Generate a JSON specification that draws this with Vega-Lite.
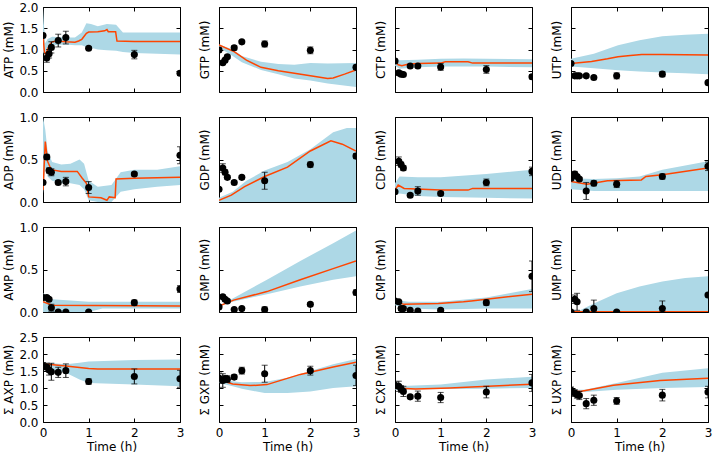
{
"$schema":"https://vega.github.io/schema/vega-lite/v6.json",
"padding":{"left":2,"top":0,"right":2,"bottom":2},
"datasets":{
"pts":[
{"m":"ATP","t":0,"v":1.33,"lo":1.28,"hi":1.38},{"m":"ATP","t":0.083,"v":0.8,"lo":0.7,"hi":0.9},{"m":"ATP","t":0.133,"v":0.9,"lo":0.8,"hi":1.0},{"m":"ATP","t":0.183,"v":1.05,"lo":0.92,"hi":1.18},{"m":"ATP","t":0.333,"v":1.21,"lo":1.06,"hi":1.36},{"m":"ATP","t":0.5,"v":1.28,"lo":1.13,"hi":1.43},{"m":"ATP","t":1,"v":1.03,"lo":1.0,"hi":1.06},{"m":"ATP","t":2,"v":0.88,"lo":0.78,"hi":0.98},{"m":"ATP","t":3,"v":0.44,"lo":0.39,"hi":0.49},
{"m":"GTP","t":0,"v":0.99,"lo":0.94,"hi":1.04},{"m":"GTP","t":0.083,"v":0.69,"lo":0.65,"hi":0.73},{"m":"GTP","t":0.133,"v":0.75,"lo":0.71,"hi":0.79},{"m":"GTP","t":0.183,"v":0.83,"lo":0.79,"hi":0.87},{"m":"GTP","t":0.333,"v":1.04,"lo":0.99,"hi":1.09},{"m":"GTP","t":0.5,"v":1.18,"lo":1.15,"hi":1.21},{"m":"GTP","t":1,"v":1.13,"lo":1.06,"hi":1.2},{"m":"GTP","t":2,"v":0.98,"lo":0.9,"hi":1.06},{"m":"GTP","t":3,"v":0.58,"lo":0.53,"hi":0.63},
{"m":"CTP","t":0,"v":0.73,"lo":0.68,"hi":0.78},{"m":"CTP","t":0.083,"v":0.45,"lo":0.42,"hi":0.48},{"m":"CTP","t":0.133,"v":0.42,"lo":0.39,"hi":0.45},{"m":"CTP","t":0.183,"v":0.41,"lo":0.38,"hi":0.44},{"m":"CTP","t":0.333,"v":0.61,"lo":0.58,"hi":0.64},{"m":"CTP","t":0.5,"v":0.61,"lo":0.58,"hi":0.64},{"m":"CTP","t":1,"v":0.59,"lo":0.51,"hi":0.67},{"m":"CTP","t":2,"v":0.53,"lo":0.44,"hi":0.62},{"m":"CTP","t":3,"v":0.36,"lo":0.31,"hi":0.41},
{"m":"UTP","t":0,"v":0.67,"lo":0.63,"hi":0.71},{"m":"UTP","t":0.083,"v":0.38,"lo":0.35,"hi":0.41},{"m":"UTP","t":0.133,"v":0.38,"lo":0.35,"hi":0.41},{"m":"UTP","t":0.183,"v":0.38,"lo":0.35,"hi":0.41},{"m":"UTP","t":0.333,"v":0.38,"lo":0.35,"hi":0.41},{"m":"UTP","t":0.5,"v":0.34,"lo":0.31,"hi":0.37},{"m":"UTP","t":1,"v":0.38,"lo":0.31,"hi":0.45},{"m":"UTP","t":2,"v":0.42,"lo":0.36,"hi":0.48},{"m":"UTP","t":3,"v":0.22,"lo":0.19,"hi":0.25},
{"m":"ADP","t":0,"v":0.23,"lo":0.21,"hi":0.25},{"m":"ADP","t":0.083,"v":0.53,"lo":0.5,"hi":0.56},{"m":"ADP","t":0.133,"v":0.37,"lo":0.34,"hi":0.4},{"m":"ADP","t":0.183,"v":0.35,"lo":0.31,"hi":0.39},{"m":"ADP","t":0.333,"v":0.23,"lo":0.21,"hi":0.25},{"m":"ADP","t":0.5,"v":0.24,"lo":0.19,"hi":0.29},{"m":"ADP","t":1,"v":0.17,"lo":0.1,"hi":0.24},{"m":"ADP","t":2,"v":0.33,"lo":0.31,"hi":0.35},{"m":"ADP","t":3,"v":0.55,"lo":0.45,"hi":0.65},
{"m":"GDP","t":0,"v":0.15,"lo":0.13,"hi":0.17},{"m":"GDP","t":0.083,"v":0.4,"lo":0.35,"hi":0.45},{"m":"GDP","t":0.133,"v":0.35,"lo":0.32,"hi":0.38},{"m":"GDP","t":0.183,"v":0.29,"lo":0.27,"hi":0.31},{"m":"GDP","t":0.333,"v":0.23,"lo":0.21,"hi":0.25},{"m":"GDP","t":0.5,"v":0.29,"lo":0.27,"hi":0.31},{"m":"GDP","t":1,"v":0.25,"lo":0.15,"hi":0.35},{"m":"GDP","t":2,"v":0.44,"lo":0.41,"hi":0.47},{"m":"GDP","t":3,"v":0.54,"lo":0.51,"hi":0.57},
{"m":"CDP","t":0,"v":0.12,"lo":0.1,"hi":0.14},{"m":"CDP","t":0.083,"v":0.48,"lo":0.43,"hi":0.53},{"m":"CDP","t":0.133,"v":0.44,"lo":0.41,"hi":0.47},{"m":"CDP","t":0.183,"v":0.4,"lo":0.37,"hi":0.43},{"m":"CDP","t":0.333,"v":0.08,"lo":0.06,"hi":0.1},{"m":"CDP","t":0.5,"v":0.13,"lo":0.08,"hi":0.18},{"m":"CDP","t":1,"v":0.1,"lo":0.08,"hi":0.12},{"m":"CDP","t":2,"v":0.23,"lo":0.19,"hi":0.27},{"m":"CDP","t":3,"v":0.36,"lo":0.31,"hi":0.41},
{"m":"UDP","t":0,"v":0.28,"lo":0.26,"hi":0.3},{"m":"UDP","t":0.083,"v":0.33,"lo":0.3,"hi":0.36},{"m":"UDP","t":0.133,"v":0.3,"lo":0.28,"hi":0.32},{"m":"UDP","t":0.183,"v":0.27,"lo":0.25,"hi":0.29},{"m":"UDP","t":0.333,"v":0.13,"lo":0.03,"hi":0.23},{"m":"UDP","t":0.5,"v":0.22,"lo":0.19,"hi":0.25},{"m":"UDP","t":1,"v":0.21,"lo":0.17,"hi":0.25},{"m":"UDP","t":2,"v":0.3,"lo":0.27,"hi":0.33},{"m":"UDP","t":3,"v":0.42,"lo":0.37,"hi":0.47},
{"m":"AMP","t":0,"v":0.17,"lo":0.15,"hi":0.19},{"m":"AMP","t":0.083,"v":0.17,"lo":0.15,"hi":0.19},{"m":"AMP","t":0.133,"v":0.15,"lo":0.13,"hi":0.17},{"m":"AMP","t":0.183,"v":0.05,"lo":0.01,"hi":0.09},{"m":"AMP","t":0.333,"v":0.0,"lo":0.0,"hi":0.01},{"m":"AMP","t":0.5,"v":0.0,"lo":0.0,"hi":0.01},{"m":"AMP","t":1,"v":0.0,"lo":0.0,"hi":0.01},{"m":"AMP","t":2,"v":0.11,"lo":0.08,"hi":0.14},{"m":"AMP","t":3,"v":0.27,"lo":0.23,"hi":0.31},
{"m":"GMP","t":0,"v":0.06,"lo":0.05,"hi":0.07},{"m":"GMP","t":0.083,"v":0.18,"lo":0.16,"hi":0.2},{"m":"GMP","t":0.133,"v":0.15,"lo":0.13,"hi":0.17},{"m":"GMP","t":0.183,"v":0.13,"lo":0.11,"hi":0.15},{"m":"GMP","t":0.333,"v":0.03,"lo":0.02,"hi":0.04},{"m":"GMP","t":0.5,"v":0.04,"lo":0.03,"hi":0.05},{"m":"GMP","t":1,"v":0.03,"lo":0.0,"hi":0.06},{"m":"GMP","t":2,"v":0.09,"lo":0.07,"hi":0.11},{"m":"GMP","t":3,"v":0.23,"lo":0.2,"hi":0.26},
{"m":"CMP","t":0,"v":0.13,"lo":0.12,"hi":0.14},{"m":"CMP","t":0.083,"v":0.12,"lo":0.11,"hi":0.13},{"m":"CMP","t":0.133,"v":0.04,"lo":0.02,"hi":0.06},{"m":"CMP","t":0.183,"v":0.04,"lo":0.02,"hi":0.06},{"m":"CMP","t":0.333,"v":0.02,"lo":0.01,"hi":0.03},{"m":"CMP","t":0.5,"v":0.01,"lo":0.0,"hi":0.02},{"m":"CMP","t":1,"v":0.02,"lo":0.0,"hi":0.04},{"m":"CMP","t":2,"v":0.11,"lo":0.08,"hi":0.14},{"m":"CMP","t":3,"v":0.42,"lo":0.24,"hi":0.6},
{"m":"UMP","t":0,"v":0.0,"lo":0.0,"hi":0.01},{"m":"UMP","t":0.083,"v":0.15,"lo":0.1,"hi":0.2},{"m":"UMP","t":0.133,"v":0.12,"lo":0.02,"hi":0.22},{"m":"UMP","t":0.333,"v":0.0,"lo":0.0,"hi":0.01},{"m":"UMP","t":0.5,"v":0.04,"lo":0.0,"hi":0.14},{"m":"UMP","t":1,"v":0.0,"lo":0.0,"hi":0.01},{"m":"UMP","t":2,"v":0.04,"lo":0.0,"hi":0.13},{"m":"UMP","t":3,"v":0.2,"lo":0.18,"hi":0.22},
{"m":"AXP","t":0,"v":1.65,"lo":1.55,"hi":1.75},{"m":"AXP","t":0.083,"v":1.61,"lo":1.49,"hi":1.73},{"m":"AXP","t":0.133,"v":1.53,"lo":1.38,"hi":1.68},{"m":"AXP","t":0.183,"v":1.48,"lo":1.23,"hi":1.73},{"m":"AXP","t":0.333,"v":1.46,"lo":1.31,"hi":1.61},{"m":"AXP","t":0.5,"v":1.51,"lo":1.31,"hi":1.71},{"m":"AXP","t":1,"v":1.19,"lo":1.11,"hi":1.27},{"m":"AXP","t":2,"v":1.34,"lo":1.12,"hi":1.56},{"m":"AXP","t":3,"v":1.27,"lo":1.02,"hi":1.52},
{"m":"GXP","t":0,"v":1.29,"lo":1.14,"hi":1.44},{"m":"GXP","t":0.083,"v":1.22,"lo":1.02,"hi":1.42},{"m":"GXP","t":0.133,"v":1.27,"lo":1.17,"hi":1.37},{"m":"GXP","t":0.183,"v":1.26,"lo":1.16,"hi":1.36},{"m":"GXP","t":0.333,"v":1.32,"lo":1.25,"hi":1.39},{"m":"GXP","t":0.5,"v":1.51,"lo":1.41,"hi":1.61},{"m":"GXP","t":1,"v":1.42,"lo":1.17,"hi":1.67},{"m":"GXP","t":2,"v":1.51,"lo":1.38,"hi":1.64},{"m":"GXP","t":3,"v":1.37,"lo":1.07,"hi":1.67},
{"m":"CXP","t":0,"v":1.08,"lo":0.98,"hi":1.18},{"m":"CXP","t":0.083,"v":1.05,"lo":0.9,"hi":1.2},{"m":"CXP","t":0.133,"v":0.97,"lo":0.87,"hi":1.07},{"m":"CXP","t":0.183,"v":0.9,"lo":0.75,"hi":1.05},{"m":"CXP","t":0.333,"v":0.74,"lo":0.69,"hi":0.79},{"m":"CXP","t":0.5,"v":0.76,"lo":0.61,"hi":0.91},{"m":"CXP","t":1,"v":0.72,"lo":0.57,"hi":0.87},{"m":"CXP","t":2,"v":0.88,"lo":0.71,"hi":1.05},{"m":"CXP","t":3,"v":1.15,"lo":0.9,"hi":1.4},
{"m":"UXP","t":0,"v":0.93,"lo":0.83,"hi":1.03},{"m":"UXP","t":0.083,"v":0.85,"lo":0.75,"hi":0.95},{"m":"UXP","t":0.133,"v":0.8,"lo":0.7,"hi":0.9},{"m":"UXP","t":0.183,"v":0.78,"lo":0.66,"hi":0.9},{"m":"UXP","t":0.333,"v":0.54,"lo":0.39,"hi":0.69},{"m":"UXP","t":0.5,"v":0.64,"lo":0.49,"hi":0.79},{"m":"UXP","t":1,"v":0.62,"lo":0.52,"hi":0.72},{"m":"UXP","t":2,"v":0.79,"lo":0.62,"hi":0.96},{"m":"UXP","t":3,"v":0.88,"lo":0.71,"hi":1.05}
],
"line":[
{"m":"ATP","t":0,"v":1.33},{"m":"ATP","t":0.03,"v":0.95},{"m":"ATP","t":0.06,"v":0.88},{"m":"ATP","t":0.1,"v":1.0},{"m":"ATP","t":0.15,"v":1.12},{"m":"ATP","t":0.2,"v":1.18},{"m":"ATP","t":0.3,"v":1.2},{"m":"ATP","t":0.5,"v":1.18},{"m":"ATP","t":0.7,"v":1.17},{"m":"ATP","t":0.78,"v":1.2},{"m":"ATP","t":0.85,"v":1.24},{"m":"ATP","t":0.95,"v":1.38},{"m":"ATP","t":1.0,"v":1.41},{"m":"ATP","t":1.2,"v":1.42},{"m":"ATP","t":1.35,"v":1.44},{"m":"ATP","t":1.4,"v":1.47},{"m":"ATP","t":1.43,"v":1.42},{"m":"ATP","t":1.59,"v":1.42},{"m":"ATP","t":1.62,"v":1.2},{"m":"ATP","t":2,"v":1.19},{"m":"ATP","t":3,"v":1.19},
{"m":"GTP","t":0,"v":1.11},{"m":"GTP","t":0.33,"v":0.95},{"m":"GTP","t":0.6,"v":0.75},{"m":"GTP","t":0.92,"v":0.58},{"m":"GTP","t":1.3,"v":0.5},{"m":"GTP","t":1.65,"v":0.44},{"m":"GTP","t":2.0,"v":0.38},{"m":"GTP","t":2.38,"v":0.32},{"m":"GTP","t":2.5,"v":0.33},{"m":"GTP","t":2.75,"v":0.42},{"m":"GTP","t":3,"v":0.52},
{"m":"CTP","t":0,"v":0.73},{"m":"CTP","t":0.07,"v":0.64},{"m":"CTP","t":0.15,"v":0.62},{"m":"CTP","t":0.3,"v":0.66},{"m":"CTP","t":0.5,"v":0.67},{"m":"CTP","t":1.0,"v":0.68},{"m":"CTP","t":1.1,"v":0.71},{"m":"CTP","t":1.6,"v":0.71},{"m":"CTP","t":1.7,"v":0.68},{"m":"CTP","t":3,"v":0.68},
{"m":"UTP","t":0,"v":0.67},{"m":"UTP","t":0.45,"v":0.72},{"m":"UTP","t":0.8,"v":0.78},{"m":"UTP","t":1.03,"v":0.83},{"m":"UTP","t":1.3,"v":0.86},{"m":"UTP","t":1.55,"v":0.88},{"m":"UTP","t":2,"v":0.88},{"m":"UTP","t":3,"v":0.87},
{"m":"ADP","t":0,"v":0.14},{"m":"ADP","t":0.05,"v":0.71},{"m":"ADP","t":0.1,"v":0.48},{"m":"ADP","t":0.18,"v":0.38},{"m":"ADP","t":0.4,"v":0.36},{"m":"ADP","t":0.75,"v":0.36},{"m":"ADP","t":0.86,"v":0.28},{"m":"ADP","t":0.95,"v":0.22},{"m":"ADP","t":1.0,"v":0.06},{"m":"ADP","t":1.27,"v":0.05},{"m":"ADP","t":1.4,"v":0.02},{"m":"ADP","t":1.45,"v":0.06},{"m":"ADP","t":1.58,"v":0.05},{"m":"ADP","t":1.6,"v":0.27},{"m":"ADP","t":2,"v":0.28},{"m":"ADP","t":3,"v":0.29},
{"m":"GDP","t":0,"v":0.02},{"m":"GDP","t":0.27,"v":0.08},{"m":"GDP","t":0.56,"v":0.18},{"m":"GDP","t":1.0,"v":0.3},{"m":"GDP","t":1.5,"v":0.41},{"m":"GDP","t":2.0,"v":0.6},{"m":"GDP","t":2.45,"v":0.72},{"m":"GDP","t":2.7,"v":0.68},{"m":"GDP","t":3,"v":0.6},
{"m":"CDP","t":0,"v":0.14},{"m":"CDP","t":0.07,"v":0.2},{"m":"CDP","t":0.2,"v":0.16},{"m":"CDP","t":1.0,"v":0.14},{"m":"CDP","t":1.6,"v":0.14},{"m":"CDP","t":1.7,"v":0.16},{"m":"CDP","t":3,"v":0.16},
{"m":"UDP","t":0,"v":0.24},{"m":"UDP","t":0.35,"v":0.21},{"m":"UDP","t":0.8,"v":0.25},{"m":"UDP","t":1.54,"v":0.26},{"m":"UDP","t":1.64,"v":0.3},{"m":"UDP","t":2,"v":0.32},{"m":"UDP","t":3,"v":0.4},
{"m":"AMP","t":0,"v":0.12},{"m":"AMP","t":0.2,"v":0.08},{"m":"AMP","t":3,"v":0.07},
{"m":"GMP","t":0,"v":0.07},{"m":"GMP","t":0.32,"v":0.14},{"m":"GMP","t":1.05,"v":0.24},{"m":"GMP","t":1.78,"v":0.38},{"m":"GMP","t":2.5,"v":0.51},{"m":"GMP","t":3,"v":0.6},
{"m":"CMP","t":0,"v":0.12},{"m":"CMP","t":0.2,"v":0.09},{"m":"CMP","t":0.95,"v":0.1},{"m":"CMP","t":1.5,"v":0.12},{"m":"CMP","t":1.67,"v":0.13},{"m":"CMP","t":3,"v":0.21},
{"m":"UMP","t":0,"v":0.003},{"m":"UMP","t":3,"v":0.003},
{"m":"AXP","t":0,"v":1.71},{"m":"AXP","t":0.55,"v":1.64},{"m":"AXP","t":1.0,"v":1.57},{"m":"AXP","t":1.2,"v":1.56},{"m":"AXP","t":3,"v":1.56},
{"m":"GXP","t":0,"v":1.24},{"m":"GXP","t":0.3,"v":1.12},{"m":"GXP","t":0.68,"v":1.07},{"m":"GXP","t":1.05,"v":1.1},{"m":"GXP","t":1.78,"v":1.4},{"m":"GXP","t":2.5,"v":1.62},{"m":"GXP","t":3,"v":1.76},
{"m":"CXP","t":0,"v":1.0},{"m":"CXP","t":0.45,"v":0.97},{"m":"CXP","t":1.2,"v":1.0},{"m":"CXP","t":3,"v":1.11},
{"m":"UXP","t":0,"v":0.92},{"m":"UXP","t":0.2,"v":0.9},{"m":"UXP","t":0.93,"v":1.08},{"m":"UXP","t":1.95,"v":1.22},{"m":"UXP","t":3,"v":1.29}
],
"band":[
{"m":"ATP","t":0,"lo":0.95,"hi":2.0},{"m":"ATP","t":0.02,"lo":0.9,"hi":1.6},{"m":"ATP","t":0.05,"lo":0.85,"hi":1.15},{"m":"ATP","t":0.1,"lo":1.0,"hi":1.25},{"m":"ATP","t":0.2,"lo":1.1,"hi":1.3},{"m":"ATP","t":0.5,"lo":1.12,"hi":1.28},{"m":"ATP","t":0.7,"lo":1.1,"hi":1.28},{"m":"ATP","t":0.85,"lo":1.1,"hi":1.4},{"m":"ATP","t":0.95,"lo":1.06,"hi":1.62},{"m":"ATP","t":1.05,"lo":1.04,"hi":1.6},{"m":"ATP","t":1.2,"lo":1.0,"hi":1.55},{"m":"ATP","t":1.4,"lo":0.98,"hi":1.6},{"m":"ATP","t":1.6,"lo":0.97,"hi":1.58},{"m":"ATP","t":1.75,"lo":0.94,"hi":1.4},{"m":"ATP","t":2,"lo":0.92,"hi":1.4},{"m":"ATP","t":3,"lo":0.88,"hi":1.4},
{"m":"GTP","t":0,"lo":1.05,"hi":1.12},{"m":"GTP","t":0.3,"lo":0.85,"hi":1.0},{"m":"GTP","t":0.5,"lo":0.7,"hi":0.85},{"m":"GTP","t":0.92,"lo":0.52,"hi":0.71},{"m":"GTP","t":1.3,"lo":0.42,"hi":0.66},{"m":"GTP","t":1.65,"lo":0.32,"hi":0.64},{"m":"GTP","t":2,"lo":0.27,"hi":0.68},{"m":"GTP","t":2.38,"lo":0.2,"hi":0.67},{"m":"GTP","t":3,"lo":0.12,"hi":0.68},
{"m":"CTP","t":0,"lo":0.62,"hi":0.8},{"m":"CTP","t":0.1,"lo":0.55,"hi":0.75},{"m":"CTP","t":0.5,"lo":0.58,"hi":0.76},{"m":"CTP","t":1,"lo":0.6,"hi":0.78},{"m":"CTP","t":1.5,"lo":0.6,"hi":0.79},{"m":"CTP","t":2,"lo":0.6,"hi":0.78},{"m":"CTP","t":3,"lo":0.58,"hi":0.77},
{"m":"UTP","t":0,"lo":0.6,"hi":0.78},{"m":"UTP","t":0.5,"lo":0.56,"hi":0.9},{"m":"UTP","t":1.03,"lo":0.51,"hi":1.1},{"m":"UTP","t":1.5,"lo":0.48,"hi":1.22},{"m":"UTP","t":2,"lo":0.46,"hi":1.31},{"m":"UTP","t":2.5,"lo":0.44,"hi":1.35},{"m":"UTP","t":3,"lo":0.42,"hi":1.37},
{"m":"ADP","t":0,"lo":0.1,"hi":1.0},{"m":"ADP","t":0.05,"lo":0.4,"hi":0.85},{"m":"ADP","t":0.1,"lo":0.3,"hi":0.6},{"m":"ADP","t":0.2,"lo":0.25,"hi":0.47},{"m":"ADP","t":0.4,"lo":0.22,"hi":0.44},{"m":"ADP","t":0.6,"lo":0.22,"hi":0.45},{"m":"ADP","t":0.8,"lo":0.2,"hi":0.5},{"m":"ADP","t":0.9,"lo":0.15,"hi":0.45},{"m":"ADP","t":1.0,"lo":0.02,"hi":0.25},{"m":"ADP","t":1.2,"lo":0.0,"hi":0.18},{"m":"ADP","t":1.5,"lo":0.0,"hi":0.2},{"m":"ADP","t":1.7,"lo":0.12,"hi":0.35},{"m":"ADP","t":2,"lo":0.15,"hi":0.38},{"m":"ADP","t":2.5,"lo":0.18,"hi":0.38},{"m":"ADP","t":3,"lo":0.2,"hi":0.42},
{"m":"GDP","t":0,"lo":0.0,"hi":0.05},{"m":"GDP","t":0.3,"lo":0.0,"hi":0.12},{"m":"GDP","t":0.6,"lo":0.0,"hi":0.25},{"m":"GDP","t":1.0,"lo":0.0,"hi":0.37},{"m":"GDP","t":1.5,"lo":0.0,"hi":0.47},{"m":"GDP","t":2.0,"lo":0.0,"hi":0.62},{"m":"GDP","t":2.5,"lo":0.0,"hi":0.82},{"m":"GDP","t":2.8,"lo":0.0,"hi":0.87},{"m":"GDP","t":3,"lo":0.0,"hi":0.87},
{"m":"CDP","t":0,"lo":0.08,"hi":0.22},{"m":"CDP","t":0.1,"lo":0.1,"hi":0.3},{"m":"CDP","t":0.5,"lo":0.07,"hi":0.29},{"m":"CDP","t":1,"lo":0.06,"hi":0.29},{"m":"CDP","t":2,"lo":0.05,"hi":0.33},{"m":"CDP","t":3,"lo":0.04,"hi":0.38},
{"m":"UDP","t":0,"lo":0.15,"hi":0.28},{"m":"UDP","t":0.5,"lo":0.13,"hi":0.27},{"m":"UDP","t":1,"lo":0.13,"hi":0.28},{"m":"UDP","t":1.5,"lo":0.13,"hi":0.3},{"m":"UDP","t":2,"lo":0.13,"hi":0.38},{"m":"UDP","t":3,"lo":0.13,"hi":0.48},
{"m":"AMP","t":0,"lo":0.0,"hi":0.22},{"m":"AMP","t":0.2,"lo":0.0,"hi":0.15},{"m":"AMP","t":1,"lo":0.0,"hi":0.12},{"m":"AMP","t":1.3,"lo":0.04,"hi":0.12},{"m":"AMP","t":3,"lo":0.04,"hi":0.12},
{"m":"GMP","t":0,"lo":0.07,"hi":0.07},{"m":"GMP","t":0.3,"lo":0.12,"hi":0.16},{"m":"GMP","t":1.05,"lo":0.21,"hi":0.38},{"m":"GMP","t":1.78,"lo":0.3,"hi":0.6},{"m":"GMP","t":2.5,"lo":0.38,"hi":0.81},{"m":"GMP","t":3,"lo":0.42,"hi":0.96},
{"m":"CMP","t":0,"lo":0.08,"hi":0.14},{"m":"CMP","t":0.3,"lo":0.04,"hi":0.12},{"m":"CMP","t":1,"lo":0.03,"hi":0.12},{"m":"CMP","t":2,"lo":0.04,"hi":0.17},{"m":"CMP","t":2.5,"lo":0.04,"hi":0.22},{"m":"CMP","t":3,"lo":0.04,"hi":0.27},
{"m":"UMP","t":0,"lo":0.0,"hi":0.0},{"m":"UMP","t":0.2,"lo":0.0,"hi":0.02},{"m":"UMP","t":0.5,"lo":0.0,"hi":0.1},{"m":"UMP","t":1.0,"lo":0.0,"hi":0.22},{"m":"UMP","t":1.5,"lo":0.0,"hi":0.3},{"m":"UMP","t":2.0,"lo":0.0,"hi":0.36},{"m":"UMP","t":2.5,"lo":0.0,"hi":0.4},{"m":"UMP","t":3,"lo":0.0,"hi":0.42},
{"m":"AXP","t":0,"lo":1.6,"hi":1.75},{"m":"AXP","t":0.5,"lo":1.45,"hi":1.7},{"m":"AXP","t":0.8,"lo":1.25,"hi":1.74},{"m":"AXP","t":1,"lo":1.15,"hi":1.78},{"m":"AXP","t":2,"lo":1.1,"hi":1.82},{"m":"AXP","t":3,"lo":1.05,"hi":1.84},
{"m":"GXP","t":0,"lo":1.15,"hi":1.3},{"m":"GXP","t":0.3,"lo":1.05,"hi":1.2},{"m":"GXP","t":0.5,"lo":0.98,"hi":1.17},{"m":"GXP","t":1,"lo":0.85,"hi":1.18},{"m":"GXP","t":1.5,"lo":0.85,"hi":1.3},{"m":"GXP","t":2,"lo":0.9,"hi":1.5},{"m":"GXP","t":2.5,"lo":1.0,"hi":1.7},{"m":"GXP","t":3,"lo":1.05,"hi":1.85},
{"m":"CXP","t":0,"lo":0.95,"hi":1.05},{"m":"CXP","t":1,"lo":0.97,"hi":1.1},{"m":"CXP","t":2,"lo":0.98,"hi":1.25},{"m":"CXP","t":3,"lo":1.0,"hi":1.33},
{"m":"UXP","t":0,"lo":0.88,"hi":0.95},{"m":"UXP","t":0.3,"lo":0.88,"hi":0.95},{"m":"UXP","t":1,"lo":0.95,"hi":1.15},{"m":"UXP","t":2,"lo":1.0,"hi":1.45},{"m":"UXP","t":3,"lo":1.03,"hi":1.58}
]
},
"concat":[
{"width":137,"height":85,"resolve":{"axis":{"x":"independent","y":"independent"}},"layer":[
{"data":{"name":"band"},"transform":[{"filter":"datum.m==='ATP'"}],"mark":{"type":"area","color":"#add8e6","opacity":1,"clip":true},"encoding":{"x":{"field":"t","type":"quantitative","scale":{"domain":[0,3],"nice":false},"axis":{"orient":"bottom","values":[0,1,2,3],"labels":false,"title":null}},"y":{"field":"lo","type":"quantitative","scale":{"domain":[0,2],"nice":false},"axis":{"orient":"left","values":[0,0.5,1,1.5,2],"format":".1f","titleFontWeight":400,"title":"ATP (mM)"}},"y2":{"field":"hi"}}},
{"data":{"name":"line"},"transform":[{"filter":"datum.m==='ATP'"}],"mark":{"type":"line","color":"#ff4500","strokeWidth":1.5,"clip":true},"encoding":{"x":{"field":"t","type":"quantitative","scale":{"domain":[0,3],"nice":false},"axis":{"orient":"top","values":[0,1,2,3],"labels":false,"title":null}},"y":{"field":"v","type":"quantitative","scale":{"domain":[0,2],"nice":false},"axis":{"orient":"right","values":[0,0.5,1,1.5,2],"labels":false,"title":null}}}},
{"data":{"name":"pts"},"transform":[{"filter":"datum.m==='ATP'"}],"mark":{"type":"errorbar","ticks":{"size":6},"color":"black","clip":true},"encoding":{"x":{"field":"t","type":"quantitative","axis":null},"y":{"field":"lo","type":"quantitative","axis":null},"y2":{"field":"hi"}}},
{"data":{"name":"pts"},"transform":[{"filter":"datum.m==='ATP'"}],"mark":{"type":"circle","color":"black","opacity":1,"size":50,"clip":true},"encoding":{"x":{"field":"t","type":"quantitative","axis":null},"y":{"field":"v","type":"quantitative","axis":null}}}
]},
{"width":137,"height":85,"resolve":{"axis":{"x":"independent","y":"independent"}},"layer":[
{"data":{"name":"band"},"transform":[{"filter":"datum.m==='GTP'"}],"mark":{"type":"area","color":"#add8e6","opacity":1,"clip":true},"encoding":{"x":{"field":"t","type":"quantitative","scale":{"domain":[0,3],"nice":false},"axis":{"orient":"bottom","values":[0,1,2,3],"labels":false,"title":null}},"y":{"field":"lo","type":"quantitative","scale":{"domain":[0,2],"nice":false},"axis":{"orient":"left","values":[0,0.5,1,1.5,2],"labels":false,"titlePadding":7,"titleFontWeight":400,"title":"GTP (mM)"}},"y2":{"field":"hi"}}},
{"data":{"name":"line"},"transform":[{"filter":"datum.m==='GTP'"}],"mark":{"type":"line","color":"#ff4500","strokeWidth":1.5,"clip":true},"encoding":{"x":{"field":"t","type":"quantitative","scale":{"domain":[0,3],"nice":false},"axis":{"orient":"top","values":[0,1,2,3],"labels":false,"title":null}},"y":{"field":"v","type":"quantitative","scale":{"domain":[0,2],"nice":false},"axis":{"orient":"right","values":[0,0.5,1,1.5,2],"labels":false,"title":null}}}},
{"data":{"name":"pts"},"transform":[{"filter":"datum.m==='GTP'"}],"mark":{"type":"errorbar","ticks":{"size":6},"color":"black","clip":true},"encoding":{"x":{"field":"t","type":"quantitative","axis":null},"y":{"field":"lo","type":"quantitative","axis":null},"y2":{"field":"hi"}}},
{"data":{"name":"pts"},"transform":[{"filter":"datum.m==='GTP'"}],"mark":{"type":"circle","color":"black","opacity":1,"size":50,"clip":true},"encoding":{"x":{"field":"t","type":"quantitative","axis":null},"y":{"field":"v","type":"quantitative","axis":null}}}
]},
{"width":137,"height":85,"resolve":{"axis":{"x":"independent","y":"independent"}},"layer":[
{"data":{"name":"band"},"transform":[{"filter":"datum.m==='CTP'"}],"mark":{"type":"area","color":"#add8e6","opacity":1,"clip":true},"encoding":{"x":{"field":"t","type":"quantitative","scale":{"domain":[0,3],"nice":false},"axis":{"orient":"bottom","values":[0,1,2,3],"labels":false,"title":null}},"y":{"field":"lo","type":"quantitative","scale":{"domain":[0,2],"nice":false},"axis":{"orient":"left","values":[0,0.5,1,1.5,2],"labels":false,"titlePadding":7,"titleFontWeight":400,"title":"CTP (mM)"}},"y2":{"field":"hi"}}},
{"data":{"name":"line"},"transform":[{"filter":"datum.m==='CTP'"}],"mark":{"type":"line","color":"#ff4500","strokeWidth":1.5,"clip":true},"encoding":{"x":{"field":"t","type":"quantitative","scale":{"domain":[0,3],"nice":false},"axis":{"orient":"top","values":[0,1,2,3],"labels":false,"title":null}},"y":{"field":"v","type":"quantitative","scale":{"domain":[0,2],"nice":false},"axis":{"orient":"right","values":[0,0.5,1,1.5,2],"labels":false,"title":null}}}},
{"data":{"name":"pts"},"transform":[{"filter":"datum.m==='CTP'"}],"mark":{"type":"errorbar","ticks":{"size":6},"color":"black","clip":true},"encoding":{"x":{"field":"t","type":"quantitative","axis":null},"y":{"field":"lo","type":"quantitative","axis":null},"y2":{"field":"hi"}}},
{"data":{"name":"pts"},"transform":[{"filter":"datum.m==='CTP'"}],"mark":{"type":"circle","color":"black","opacity":1,"size":50,"clip":true},"encoding":{"x":{"field":"t","type":"quantitative","axis":null},"y":{"field":"v","type":"quantitative","axis":null}}}
]},
{"width":137,"height":85,"resolve":{"axis":{"x":"independent","y":"independent"}},"layer":[
{"data":{"name":"band"},"transform":[{"filter":"datum.m==='UTP'"}],"mark":{"type":"area","color":"#add8e6","opacity":1,"clip":true},"encoding":{"x":{"field":"t","type":"quantitative","scale":{"domain":[0,3],"nice":false},"axis":{"orient":"bottom","values":[0,1,2,3],"labels":false,"title":null}},"y":{"field":"lo","type":"quantitative","scale":{"domain":[0,2],"nice":false},"axis":{"orient":"left","values":[0,0.5,1,1.5,2],"labels":false,"titlePadding":7,"titleFontWeight":400,"title":"UTP (mM)"}},"y2":{"field":"hi"}}},
{"data":{"name":"line"},"transform":[{"filter":"datum.m==='UTP'"}],"mark":{"type":"line","color":"#ff4500","strokeWidth":1.5,"clip":true},"encoding":{"x":{"field":"t","type":"quantitative","scale":{"domain":[0,3],"nice":false},"axis":{"orient":"top","values":[0,1,2,3],"labels":false,"title":null}},"y":{"field":"v","type":"quantitative","scale":{"domain":[0,2],"nice":false},"axis":{"orient":"right","values":[0,0.5,1,1.5,2],"labels":false,"title":null}}}},
{"data":{"name":"pts"},"transform":[{"filter":"datum.m==='UTP'"}],"mark":{"type":"errorbar","ticks":{"size":6},"color":"black","clip":true},"encoding":{"x":{"field":"t","type":"quantitative","axis":null},"y":{"field":"lo","type":"quantitative","axis":null},"y2":{"field":"hi"}}},
{"data":{"name":"pts"},"transform":[{"filter":"datum.m==='UTP'"}],"mark":{"type":"circle","color":"black","opacity":1,"size":50,"clip":true},"encoding":{"x":{"field":"t","type":"quantitative","axis":null},"y":{"field":"v","type":"quantitative","axis":null}}}
]},
{"width":137,"height":85,"resolve":{"axis":{"x":"independent","y":"independent"}},"layer":[
{"data":{"name":"band"},"transform":[{"filter":"datum.m==='ADP'"}],"mark":{"type":"area","color":"#add8e6","opacity":1,"clip":true},"encoding":{"x":{"field":"t","type":"quantitative","scale":{"domain":[0,3],"nice":false},"axis":{"orient":"bottom","values":[0,1,2,3],"labels":false,"title":null}},"y":{"field":"lo","type":"quantitative","scale":{"domain":[0,1],"nice":false},"axis":{"orient":"left","values":[0,0.5,1],"format":".1f","titleFontWeight":400,"title":"ADP (mM)"}},"y2":{"field":"hi"}}},
{"data":{"name":"line"},"transform":[{"filter":"datum.m==='ADP'"}],"mark":{"type":"line","color":"#ff4500","strokeWidth":1.5,"clip":true},"encoding":{"x":{"field":"t","type":"quantitative","scale":{"domain":[0,3],"nice":false},"axis":{"orient":"top","values":[0,1,2,3],"labels":false,"title":null}},"y":{"field":"v","type":"quantitative","scale":{"domain":[0,1],"nice":false},"axis":{"orient":"right","values":[0,0.5,1],"labels":false,"title":null}}}},
{"data":{"name":"pts"},"transform":[{"filter":"datum.m==='ADP'"}],"mark":{"type":"errorbar","ticks":{"size":6},"color":"black","clip":true},"encoding":{"x":{"field":"t","type":"quantitative","axis":null},"y":{"field":"lo","type":"quantitative","axis":null},"y2":{"field":"hi"}}},
{"data":{"name":"pts"},"transform":[{"filter":"datum.m==='ADP'"}],"mark":{"type":"circle","color":"black","opacity":1,"size":50,"clip":true},"encoding":{"x":{"field":"t","type":"quantitative","axis":null},"y":{"field":"v","type":"quantitative","axis":null}}}
]},
{"width":137,"height":85,"resolve":{"axis":{"x":"independent","y":"independent"}},"layer":[
{"data":{"name":"band"},"transform":[{"filter":"datum.m==='GDP'"}],"mark":{"type":"area","color":"#add8e6","opacity":1,"clip":true},"encoding":{"x":{"field":"t","type":"quantitative","scale":{"domain":[0,3],"nice":false},"axis":{"orient":"bottom","values":[0,1,2,3],"labels":false,"title":null}},"y":{"field":"lo","type":"quantitative","scale":{"domain":[0,1],"nice":false},"axis":{"orient":"left","values":[0,0.5,1],"labels":false,"titlePadding":7,"titleFontWeight":400,"title":"GDP (mM)"}},"y2":{"field":"hi"}}},
{"data":{"name":"line"},"transform":[{"filter":"datum.m==='GDP'"}],"mark":{"type":"line","color":"#ff4500","strokeWidth":1.5,"clip":true},"encoding":{"x":{"field":"t","type":"quantitative","scale":{"domain":[0,3],"nice":false},"axis":{"orient":"top","values":[0,1,2,3],"labels":false,"title":null}},"y":{"field":"v","type":"quantitative","scale":{"domain":[0,1],"nice":false},"axis":{"orient":"right","values":[0,0.5,1],"labels":false,"title":null}}}},
{"data":{"name":"pts"},"transform":[{"filter":"datum.m==='GDP'"}],"mark":{"type":"errorbar","ticks":{"size":6},"color":"black","clip":true},"encoding":{"x":{"field":"t","type":"quantitative","axis":null},"y":{"field":"lo","type":"quantitative","axis":null},"y2":{"field":"hi"}}},
{"data":{"name":"pts"},"transform":[{"filter":"datum.m==='GDP'"}],"mark":{"type":"circle","color":"black","opacity":1,"size":50,"clip":true},"encoding":{"x":{"field":"t","type":"quantitative","axis":null},"y":{"field":"v","type":"quantitative","axis":null}}}
]},
{"width":137,"height":85,"resolve":{"axis":{"x":"independent","y":"independent"}},"layer":[
{"data":{"name":"band"},"transform":[{"filter":"datum.m==='CDP'"}],"mark":{"type":"area","color":"#add8e6","opacity":1,"clip":true},"encoding":{"x":{"field":"t","type":"quantitative","scale":{"domain":[0,3],"nice":false},"axis":{"orient":"bottom","values":[0,1,2,3],"labels":false,"title":null}},"y":{"field":"lo","type":"quantitative","scale":{"domain":[0,1],"nice":false},"axis":{"orient":"left","values":[0,0.5,1],"labels":false,"titlePadding":7,"titleFontWeight":400,"title":"CDP (mM)"}},"y2":{"field":"hi"}}},
{"data":{"name":"line"},"transform":[{"filter":"datum.m==='CDP'"}],"mark":{"type":"line","color":"#ff4500","strokeWidth":1.5,"clip":true},"encoding":{"x":{"field":"t","type":"quantitative","scale":{"domain":[0,3],"nice":false},"axis":{"orient":"top","values":[0,1,2,3],"labels":false,"title":null}},"y":{"field":"v","type":"quantitative","scale":{"domain":[0,1],"nice":false},"axis":{"orient":"right","values":[0,0.5,1],"labels":false,"title":null}}}},
{"data":{"name":"pts"},"transform":[{"filter":"datum.m==='CDP'"}],"mark":{"type":"errorbar","ticks":{"size":6},"color":"black","clip":true},"encoding":{"x":{"field":"t","type":"quantitative","axis":null},"y":{"field":"lo","type":"quantitative","axis":null},"y2":{"field":"hi"}}},
{"data":{"name":"pts"},"transform":[{"filter":"datum.m==='CDP'"}],"mark":{"type":"circle","color":"black","opacity":1,"size":50,"clip":true},"encoding":{"x":{"field":"t","type":"quantitative","axis":null},"y":{"field":"v","type":"quantitative","axis":null}}}
]},
{"width":137,"height":85,"resolve":{"axis":{"x":"independent","y":"independent"}},"layer":[
{"data":{"name":"band"},"transform":[{"filter":"datum.m==='UDP'"}],"mark":{"type":"area","color":"#add8e6","opacity":1,"clip":true},"encoding":{"x":{"field":"t","type":"quantitative","scale":{"domain":[0,3],"nice":false},"axis":{"orient":"bottom","values":[0,1,2,3],"labels":false,"title":null}},"y":{"field":"lo","type":"quantitative","scale":{"domain":[0,1],"nice":false},"axis":{"orient":"left","values":[0,0.5,1],"labels":false,"titlePadding":7,"titleFontWeight":400,"title":"UDP (mM)"}},"y2":{"field":"hi"}}},
{"data":{"name":"line"},"transform":[{"filter":"datum.m==='UDP'"}],"mark":{"type":"line","color":"#ff4500","strokeWidth":1.5,"clip":true},"encoding":{"x":{"field":"t","type":"quantitative","scale":{"domain":[0,3],"nice":false},"axis":{"orient":"top","values":[0,1,2,3],"labels":false,"title":null}},"y":{"field":"v","type":"quantitative","scale":{"domain":[0,1],"nice":false},"axis":{"orient":"right","values":[0,0.5,1],"labels":false,"title":null}}}},
{"data":{"name":"pts"},"transform":[{"filter":"datum.m==='UDP'"}],"mark":{"type":"errorbar","ticks":{"size":6},"color":"black","clip":true},"encoding":{"x":{"field":"t","type":"quantitative","axis":null},"y":{"field":"lo","type":"quantitative","axis":null},"y2":{"field":"hi"}}},
{"data":{"name":"pts"},"transform":[{"filter":"datum.m==='UDP'"}],"mark":{"type":"circle","color":"black","opacity":1,"size":50,"clip":true},"encoding":{"x":{"field":"t","type":"quantitative","axis":null},"y":{"field":"v","type":"quantitative","axis":null}}}
]},
{"width":137,"height":85,"resolve":{"axis":{"x":"independent","y":"independent"}},"layer":[
{"data":{"name":"band"},"transform":[{"filter":"datum.m==='AMP'"}],"mark":{"type":"area","color":"#add8e6","opacity":1,"clip":true},"encoding":{"x":{"field":"t","type":"quantitative","scale":{"domain":[0,3],"nice":false},"axis":{"orient":"bottom","values":[0,1,2,3],"labels":false,"title":null}},"y":{"field":"lo","type":"quantitative","scale":{"domain":[0,1],"nice":false},"axis":{"orient":"left","values":[0,0.5,1],"format":".1f","titleFontWeight":400,"title":"AMP (mM)"}},"y2":{"field":"hi"}}},
{"data":{"name":"line"},"transform":[{"filter":"datum.m==='AMP'"}],"mark":{"type":"line","color":"#ff4500","strokeWidth":1.5,"clip":true},"encoding":{"x":{"field":"t","type":"quantitative","scale":{"domain":[0,3],"nice":false},"axis":{"orient":"top","values":[0,1,2,3],"labels":false,"title":null}},"y":{"field":"v","type":"quantitative","scale":{"domain":[0,1],"nice":false},"axis":{"orient":"right","values":[0,0.5,1],"labels":false,"title":null}}}},
{"data":{"name":"pts"},"transform":[{"filter":"datum.m==='AMP'"}],"mark":{"type":"errorbar","ticks":{"size":6},"color":"black","clip":true},"encoding":{"x":{"field":"t","type":"quantitative","axis":null},"y":{"field":"lo","type":"quantitative","axis":null},"y2":{"field":"hi"}}},
{"data":{"name":"pts"},"transform":[{"filter":"datum.m==='AMP'"}],"mark":{"type":"circle","color":"black","opacity":1,"size":50,"clip":true},"encoding":{"x":{"field":"t","type":"quantitative","axis":null},"y":{"field":"v","type":"quantitative","axis":null}}}
]},
{"width":137,"height":85,"resolve":{"axis":{"x":"independent","y":"independent"}},"layer":[
{"data":{"name":"band"},"transform":[{"filter":"datum.m==='GMP'"}],"mark":{"type":"area","color":"#add8e6","opacity":1,"clip":true},"encoding":{"x":{"field":"t","type":"quantitative","scale":{"domain":[0,3],"nice":false},"axis":{"orient":"bottom","values":[0,1,2,3],"labels":false,"title":null}},"y":{"field":"lo","type":"quantitative","scale":{"domain":[0,1],"nice":false},"axis":{"orient":"left","values":[0,0.5,1],"labels":false,"titlePadding":7,"titleFontWeight":400,"title":"GMP (mM)"}},"y2":{"field":"hi"}}},
{"data":{"name":"line"},"transform":[{"filter":"datum.m==='GMP'"}],"mark":{"type":"line","color":"#ff4500","strokeWidth":1.5,"clip":true},"encoding":{"x":{"field":"t","type":"quantitative","scale":{"domain":[0,3],"nice":false},"axis":{"orient":"top","values":[0,1,2,3],"labels":false,"title":null}},"y":{"field":"v","type":"quantitative","scale":{"domain":[0,1],"nice":false},"axis":{"orient":"right","values":[0,0.5,1],"labels":false,"title":null}}}},
{"data":{"name":"pts"},"transform":[{"filter":"datum.m==='GMP'"}],"mark":{"type":"errorbar","ticks":{"size":6},"color":"black","clip":true},"encoding":{"x":{"field":"t","type":"quantitative","axis":null},"y":{"field":"lo","type":"quantitative","axis":null},"y2":{"field":"hi"}}},
{"data":{"name":"pts"},"transform":[{"filter":"datum.m==='GMP'"}],"mark":{"type":"circle","color":"black","opacity":1,"size":50,"clip":true},"encoding":{"x":{"field":"t","type":"quantitative","axis":null},"y":{"field":"v","type":"quantitative","axis":null}}}
]},
{"width":137,"height":85,"resolve":{"axis":{"x":"independent","y":"independent"}},"layer":[
{"data":{"name":"band"},"transform":[{"filter":"datum.m==='CMP'"}],"mark":{"type":"area","color":"#add8e6","opacity":1,"clip":true},"encoding":{"x":{"field":"t","type":"quantitative","scale":{"domain":[0,3],"nice":false},"axis":{"orient":"bottom","values":[0,1,2,3],"labels":false,"title":null}},"y":{"field":"lo","type":"quantitative","scale":{"domain":[0,1],"nice":false},"axis":{"orient":"left","values":[0,0.5,1],"labels":false,"titlePadding":7,"titleFontWeight":400,"title":"CMP (mM)"}},"y2":{"field":"hi"}}},
{"data":{"name":"line"},"transform":[{"filter":"datum.m==='CMP'"}],"mark":{"type":"line","color":"#ff4500","strokeWidth":1.5,"clip":true},"encoding":{"x":{"field":"t","type":"quantitative","scale":{"domain":[0,3],"nice":false},"axis":{"orient":"top","values":[0,1,2,3],"labels":false,"title":null}},"y":{"field":"v","type":"quantitative","scale":{"domain":[0,1],"nice":false},"axis":{"orient":"right","values":[0,0.5,1],"labels":false,"title":null}}}},
{"data":{"name":"pts"},"transform":[{"filter":"datum.m==='CMP'"}],"mark":{"type":"errorbar","ticks":{"size":6},"color":"black","clip":true},"encoding":{"x":{"field":"t","type":"quantitative","axis":null},"y":{"field":"lo","type":"quantitative","axis":null},"y2":{"field":"hi"}}},
{"data":{"name":"pts"},"transform":[{"filter":"datum.m==='CMP'"}],"mark":{"type":"circle","color":"black","opacity":1,"size":50,"clip":true},"encoding":{"x":{"field":"t","type":"quantitative","axis":null},"y":{"field":"v","type":"quantitative","axis":null}}}
]},
{"width":137,"height":85,"resolve":{"axis":{"x":"independent","y":"independent"}},"layer":[
{"data":{"name":"band"},"transform":[{"filter":"datum.m==='UMP'"}],"mark":{"type":"area","color":"#add8e6","opacity":1,"clip":true},"encoding":{"x":{"field":"t","type":"quantitative","scale":{"domain":[0,3],"nice":false},"axis":{"orient":"bottom","values":[0,1,2,3],"labels":false,"title":null}},"y":{"field":"lo","type":"quantitative","scale":{"domain":[0,1],"nice":false},"axis":{"orient":"left","values":[0,0.5,1],"labels":false,"titlePadding":7,"titleFontWeight":400,"title":"UMP (mM)"}},"y2":{"field":"hi"}}},
{"data":{"name":"line"},"transform":[{"filter":"datum.m==='UMP'"}],"mark":{"type":"line","color":"#ff4500","strokeWidth":1.5,"clip":true},"encoding":{"x":{"field":"t","type":"quantitative","scale":{"domain":[0,3],"nice":false},"axis":{"orient":"top","values":[0,1,2,3],"labels":false,"title":null}},"y":{"field":"v","type":"quantitative","scale":{"domain":[0,1],"nice":false},"axis":{"orient":"right","values":[0,0.5,1],"labels":false,"title":null}}}},
{"data":{"name":"pts"},"transform":[{"filter":"datum.m==='UMP'"}],"mark":{"type":"errorbar","ticks":{"size":6},"color":"black","clip":true},"encoding":{"x":{"field":"t","type":"quantitative","axis":null},"y":{"field":"lo","type":"quantitative","axis":null},"y2":{"field":"hi"}}},
{"data":{"name":"pts"},"transform":[{"filter":"datum.m==='UMP'"}],"mark":{"type":"circle","color":"black","opacity":1,"size":50,"clip":true},"encoding":{"x":{"field":"t","type":"quantitative","axis":null},"y":{"field":"v","type":"quantitative","axis":null}}}
]},
{"width":137,"height":85,"resolve":{"axis":{"x":"independent","y":"independent"}},"layer":[
{"data":{"name":"band"},"transform":[{"filter":"datum.m==='AXP'"}],"mark":{"type":"area","color":"#add8e6","opacity":1,"clip":true},"encoding":{"x":{"field":"t","type":"quantitative","scale":{"domain":[0,3],"nice":false},"axis":{"orient":"bottom","values":[0,1,2,3],"format":"d","titleFontWeight":400,"title":"Time (h)"}},"y":{"field":"lo","type":"quantitative","scale":{"domain":[0,2.5],"nice":false},"axis":{"orient":"left","values":[0,0.5,1,1.5,2,2.5],"format":".1f","titleFontWeight":400,"title":"Σ AXP (mM)"}},"y2":{"field":"hi"}}},
{"data":{"name":"line"},"transform":[{"filter":"datum.m==='AXP'"}],"mark":{"type":"line","color":"#ff4500","strokeWidth":1.5,"clip":true},"encoding":{"x":{"field":"t","type":"quantitative","scale":{"domain":[0,3],"nice":false},"axis":{"orient":"top","values":[0,1,2,3],"labels":false,"title":null}},"y":{"field":"v","type":"quantitative","scale":{"domain":[0,2.5],"nice":false},"axis":{"orient":"right","values":[0,0.5,1,1.5,2,2.5],"labels":false,"title":null}}}},
{"data":{"name":"pts"},"transform":[{"filter":"datum.m==='AXP'"}],"mark":{"type":"errorbar","ticks":{"size":6},"color":"black","clip":true},"encoding":{"x":{"field":"t","type":"quantitative","axis":null},"y":{"field":"lo","type":"quantitative","axis":null},"y2":{"field":"hi"}}},
{"data":{"name":"pts"},"transform":[{"filter":"datum.m==='AXP'"}],"mark":{"type":"circle","color":"black","opacity":1,"size":50,"clip":true},"encoding":{"x":{"field":"t","type":"quantitative","axis":null},"y":{"field":"v","type":"quantitative","axis":null}}}
]},
{"width":137,"height":85,"resolve":{"axis":{"x":"independent","y":"independent"}},"layer":[
{"data":{"name":"band"},"transform":[{"filter":"datum.m==='GXP'"}],"mark":{"type":"area","color":"#add8e6","opacity":1,"clip":true},"encoding":{"x":{"field":"t","type":"quantitative","scale":{"domain":[0,3],"nice":false},"axis":{"orient":"bottom","values":[0,1,2,3],"format":"d","titleFontWeight":400,"title":"Time (h)"}},"y":{"field":"lo","type":"quantitative","scale":{"domain":[0,2.5],"nice":false},"axis":{"orient":"left","values":[0,0.5,1,1.5,2,2.5],"labels":false,"titlePadding":7,"titleFontWeight":400,"title":"Σ GXP (mM)"}},"y2":{"field":"hi"}}},
{"data":{"name":"line"},"transform":[{"filter":"datum.m==='GXP'"}],"mark":{"type":"line","color":"#ff4500","strokeWidth":1.5,"clip":true},"encoding":{"x":{"field":"t","type":"quantitative","scale":{"domain":[0,3],"nice":false},"axis":{"orient":"top","values":[0,1,2,3],"labels":false,"title":null}},"y":{"field":"v","type":"quantitative","scale":{"domain":[0,2.5],"nice":false},"axis":{"orient":"right","values":[0,0.5,1,1.5,2,2.5],"labels":false,"title":null}}}},
{"data":{"name":"pts"},"transform":[{"filter":"datum.m==='GXP'"}],"mark":{"type":"errorbar","ticks":{"size":6},"color":"black","clip":true},"encoding":{"x":{"field":"t","type":"quantitative","axis":null},"y":{"field":"lo","type":"quantitative","axis":null},"y2":{"field":"hi"}}},
{"data":{"name":"pts"},"transform":[{"filter":"datum.m==='GXP'"}],"mark":{"type":"circle","color":"black","opacity":1,"size":50,"clip":true},"encoding":{"x":{"field":"t","type":"quantitative","axis":null},"y":{"field":"v","type":"quantitative","axis":null}}}
]},
{"width":137,"height":85,"resolve":{"axis":{"x":"independent","y":"independent"}},"layer":[
{"data":{"name":"band"},"transform":[{"filter":"datum.m==='CXP'"}],"mark":{"type":"area","color":"#add8e6","opacity":1,"clip":true},"encoding":{"x":{"field":"t","type":"quantitative","scale":{"domain":[0,3],"nice":false},"axis":{"orient":"bottom","values":[0,1,2,3],"format":"d","titleFontWeight":400,"title":"Time (h)"}},"y":{"field":"lo","type":"quantitative","scale":{"domain":[0,2.5],"nice":false},"axis":{"orient":"left","values":[0,0.5,1,1.5,2,2.5],"labels":false,"titlePadding":7,"titleFontWeight":400,"title":"Σ CXP (mM)"}},"y2":{"field":"hi"}}},
{"data":{"name":"line"},"transform":[{"filter":"datum.m==='CXP'"}],"mark":{"type":"line","color":"#ff4500","strokeWidth":1.5,"clip":true},"encoding":{"x":{"field":"t","type":"quantitative","scale":{"domain":[0,3],"nice":false},"axis":{"orient":"top","values":[0,1,2,3],"labels":false,"title":null}},"y":{"field":"v","type":"quantitative","scale":{"domain":[0,2.5],"nice":false},"axis":{"orient":"right","values":[0,0.5,1,1.5,2,2.5],"labels":false,"title":null}}}},
{"data":{"name":"pts"},"transform":[{"filter":"datum.m==='CXP'"}],"mark":{"type":"errorbar","ticks":{"size":6},"color":"black","clip":true},"encoding":{"x":{"field":"t","type":"quantitative","axis":null},"y":{"field":"lo","type":"quantitative","axis":null},"y2":{"field":"hi"}}},
{"data":{"name":"pts"},"transform":[{"filter":"datum.m==='CXP'"}],"mark":{"type":"circle","color":"black","opacity":1,"size":50,"clip":true},"encoding":{"x":{"field":"t","type":"quantitative","axis":null},"y":{"field":"v","type":"quantitative","axis":null}}}
]},
{"width":137,"height":85,"resolve":{"axis":{"x":"independent","y":"independent"}},"layer":[
{"data":{"name":"band"},"transform":[{"filter":"datum.m==='UXP'"}],"mark":{"type":"area","color":"#add8e6","opacity":1,"clip":true},"encoding":{"x":{"field":"t","type":"quantitative","scale":{"domain":[0,3],"nice":false},"axis":{"orient":"bottom","values":[0,1,2,3],"format":"d","titleFontWeight":400,"title":"Time (h)"}},"y":{"field":"lo","type":"quantitative","scale":{"domain":[0,2.5],"nice":false},"axis":{"orient":"left","values":[0,0.5,1,1.5,2,2.5],"labels":false,"titlePadding":7,"titleFontWeight":400,"title":"Σ UXP (mM)"}},"y2":{"field":"hi"}}},
{"data":{"name":"line"},"transform":[{"filter":"datum.m==='UXP'"}],"mark":{"type":"line","color":"#ff4500","strokeWidth":1.5,"clip":true},"encoding":{"x":{"field":"t","type":"quantitative","scale":{"domain":[0,3],"nice":false},"axis":{"orient":"top","values":[0,1,2,3],"labels":false,"title":null}},"y":{"field":"v","type":"quantitative","scale":{"domain":[0,2.5],"nice":false},"axis":{"orient":"right","values":[0,0.5,1,1.5,2,2.5],"labels":false,"title":null}}}},
{"data":{"name":"pts"},"transform":[{"filter":"datum.m==='UXP'"}],"mark":{"type":"errorbar","ticks":{"size":6},"color":"black","clip":true},"encoding":{"x":{"field":"t","type":"quantitative","axis":null},"y":{"field":"lo","type":"quantitative","axis":null},"y2":{"field":"hi"}}},
{"data":{"name":"pts"},"transform":[{"filter":"datum.m==='UXP'"}],"mark":{"type":"circle","color":"black","opacity":1,"size":50,"clip":true},"encoding":{"x":{"field":"t","type":"quantitative","axis":null},"y":{"field":"v","type":"quantitative","axis":null}}}
]}
],
"columns":4,
"spacing":{"row":25,"column":39},
"bounds":"flush",
"config":{
"font":"DejaVu Sans",
"view":{"stroke":"black","strokeWidth":1},
"axis":{"domain":false,"grid":false,"tickSize":-4,"tickColor":"black","tickWidth":1,"labelFontSize":12,"titleFontSize":12,"titleFontWeight":"normal","labelColor":"black","titleColor":"black","labelPadding":9,"labelFlush":false,"titlePadding":3,"labelFont":"DejaVu Sans","titleFont":"DejaVu Sans"}
}
}
